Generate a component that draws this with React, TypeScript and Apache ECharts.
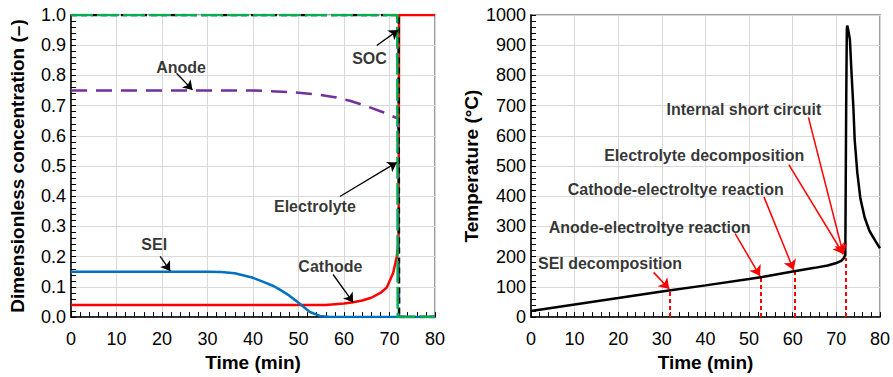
import React, { useEffect, useRef } from "react";
import * as echarts from "echarts";

// ---------- Left chart data (time in min, dimensionless concentration) ----------
const seiData: number[][] = [
  [0, 0.15], [30, 0.15], [33, 0.149], [36, 0.145], [40, 0.13], [42, 0.118],
  [44.5, 0.103], [46, 0.09], [48, 0.071], [50.3, 0.044], [52.5, 0.017],
  [54.7, 0.004], [57, 0], [80, 0],
];
const cathodeData: number[][] = [
  [0, 0.04], [56, 0.04], [60, 0.045], [62, 0.049], [64, 0.055], [66, 0.064],
  [68, 0.08], [69.4, 0.098], [70.8, 0.146], [71.6, 0.2], [72, 0.25],
  [72.1, 1.0], [80, 1.0],
];
const anodeData: number[][] = [
  [0, 0.75], [40, 0.75], [44, 0.748], [48, 0.745], [54, 0.737], [58, 0.728],
  [61.3, 0.716], [65, 0.698], [68.6, 0.678], [71.9, 0.657], [72.1, 0], [80, 0],
];
const electrolyteData: number[][] = [[0, 1], [72, 1], [72.1, 0], [80, 0]];
const socData: number[][] = [[0, 1], [71.7, 1], [71.8, 0], [80, 0]];

// left annotations: label text, label position, arrow start, arrow end
const leftLabels = ["Anode", "SOC", "Electrolyte", "SEI", "Cathode"];
const leftLabelPos: number[][] = [[24.2, 0.826], [65.6, 0.855], [53.6, 0.366], [18.3, 0.24], [57, 0.168]];
const leftArrowFrom: number[][] = [[23.2, 0.807], [67.2, 0.899], [59.1, 0.399], [19.6, 0.201], [57.6, 0.141]];
const leftArrowTo: number[][] = [[26.7, 0.752], [71.9, 0.95], [71.6, 0.512], [21.8, 0.153], [62, 0.049]];

// ---------- Right chart data (time in min, temperature in °C) ----------
const tempData: number[][] = [
  [0, 20], [10, 41.6], [20, 63], [30, 85], [32, 89], [40, 105], [50, 126],
  [53, 133], [60, 151], [65, 163], [68, 171], [70, 179], [71, 185], [71.6, 193],
  [72.05, 205], [72.25, 700], [72.4, 955], [72.5, 965], [72.7, 952], [73.1, 919],
  [73.5, 801], [73.9, 694], [74.2, 587], [74.8, 478], [75.5, 393], [76.5, 329],
  [77.6, 285], [79.1, 248], [80, 228],
];
const eventTimes = [31.8, 52.7, 60.5, 72.1];
const eventTemps = [89, 133, 153, 196];

const rightLabels = [
  "Internal short circuit",
  "Electrolyte decomposition",
  "Cathode-electroltye reaction",
  "Anode-electroltye reaction",
  "SEI decomposition",
];
const rightLabelPos: number[][] = [[48.8, 688], [39.7, 535], [33.2, 421], [27.2, 297], [18.1, 178]];
const rightArrowFrom: number[][] = [[63.6, 661], [59.1, 505], [53.4, 398], [46.8, 276], [28.1, 148]];
const rightArrowTo: number[][] = [[71.6, 208], [71.6, 208], [60.2, 156], [52.5, 136], [31.7, 93]];

const FONT = "Liberation Sans, Arial, sans-serif";

function makeXAxis(gridIndex: number) {
  return {
    type: "value" as const,
    gridIndex,
    min: 0,
    max: 80,
    interval: 10,
    name: "Time (min)",
    nameLocation: "middle" as const,
    nameGap: 35,
    nameTextStyle: { fontFamily: FONT, fontWeight: "bold" as const, fontSize: 19, color: "#000" },
    axisLine: { show: true, onZero: false, lineStyle: { color: "#000", width: 1.5 } },
    axisTick: { show: true, inside: true, length: 5, lineStyle: { color: "#000", width: 1 } },
    minorTick: { show: true, splitNumber: 5, length: 5, lineStyle: { color: "#000", width: 1 } },
    splitLine: { show: true, lineStyle: { color: "#d9d9d9", width: 1 } },
    axisLabel: { fontFamily: FONT, fontSize: 18, color: "#000", margin: 13 },
  };
}

function makeYAxis(gridIndex: number, max: number, interval: number, name: string, nameGap: number, fmt: (v: number) => string) {
  return {
    type: "value" as const,
    gridIndex,
    min: 0,
    max,
    interval,
    name,
    nameLocation: "middle" as const,
    nameGap,
    nameTextStyle: { fontFamily: FONT, fontWeight: "bold" as const, fontSize: 19, color: "#000" },
    axisLine: { show: true, onZero: false, lineStyle: { color: "#000", width: 1.5 } },
    axisTick: { show: true, inside: true, length: 5, lineStyle: { color: "#000", width: 1 } },
    minorTick: { show: true, splitNumber: 5, length: 5, lineStyle: { color: "#000", width: 1 } },
    splitLine: { show: true, lineStyle: { color: "#d9d9d9", width: 1 } },
    axisLabel: { fontFamily: FONT, fontSize: 18, color: "#000", margin: 5, formatter: fmt },
  };
}

function lineSeries(data: number[][], color: string, width: number, type: any, idx: number, z: number) {
  return {
    type: "line" as const,
    xAxisIndex: idx,
    yAxisIndex: idx,
    data,
    showSymbol: false,
    symbol: "none",
    z,
    lineStyle: { color, width, type },
  };
}

export default function App() {
  const ref = useRef<HTMLDivElement>(null);
  useEffect(() => {
    const chart = echarts.init(ref.current!, null, { renderer: "svg" });
    const labelStyle = { fontFamily: FONT, fontWeight: "bold" as const, fontSize: 16, color: "#000" };
    const option: any = {
      animation: false,
      backgroundColor: "#fff",
      grid: [
        { left: 71, top: 15, width: 364, height: 310, show: true, borderColor: "#7f7f7f", borderWidth: 1.5, backgroundColor: "transparent" },
        { left: 531, top: 15, width: 353, height: 310, show: true, borderColor: "#7f7f7f", borderWidth: 1.5, backgroundColor: "transparent" },
      ],
      xAxis: [makeXAxis(0), makeXAxis(1)],
      yAxis: [
        makeYAxis(0, 1, 0.1, "Dimensionless concentration (–)", 44, (v: number) => v.toFixed(1)),
        makeYAxis(1, 1000, 100, "Temperature (°C)", 50, (v: number) => String(Math.round(v))),
      ],
      series: [
        lineSeries(cathodeData, "#ff0000", 2.5, "solid", 0, 3),
        lineSeries(seiData, "#0070c0", 2.5, "solid", 0, 3),
        lineSeries(anodeData, "#7030a0", 2.5, [16, 9], 0, 4),
        lineSeries(electrolyteData, "#000000", 2.5, [6, 4], 0, 5),
        lineSeries(socData, "#00b050", 2.5, [22, 4], 0, 6),
        {
          type: "lines",
          coordinateSystem: "cartesian2d",
          xAxisIndex: 0,
          yAxisIndex: 0,
          symbol: ["none", "arrow"],
          symbolSize: 9,
          z: 8,
          lineStyle: { color: "#000", width: 1.3, opacity: 1 },
          data: leftArrowFrom.map((p, i) => ({ coords: [p, leftArrowTo[i]] })),
        },
        {
          type: "scatter",
          xAxisIndex: 0,
          yAxisIndex: 0,
          symbolSize: 0,
          z: 9,
          label: { show: true, position: "inside", formatter: "{b}", ...labelStyle },
          data: leftLabels.map((n, i) => ({ name: n, value: leftLabelPos[i] })),
        },
        // right chart
        {
          type: "lines",
          coordinateSystem: "cartesian2d",
          xAxisIndex: 1,
          yAxisIndex: 1,
          z: 3,
          lineStyle: { color: "#ff0000", width: 2, type: [4, 3], opacity: 1 },
          data: eventTimes.map((t, i) => ({ coords: [[t, 0], [t, eventTemps[i]]] })),
        },
        lineSeries(tempData, "#000000", 2.5, "solid", 1, 4),
        {
          type: "lines",
          coordinateSystem: "cartesian2d",
          xAxisIndex: 1,
          yAxisIndex: 1,
          symbol: ["none", "arrow"],
          symbolSize: 10,
          z: 8,
          lineStyle: { color: "#ff0000", width: 1.5, opacity: 1 },
          data: rightArrowFrom.map((p, i) => ({ coords: [p, rightArrowTo[i]] })),
        },
        {
          type: "scatter",
          xAxisIndex: 1,
          yAxisIndex: 1,
          symbolSize: 0,
          z: 9,
          label: { show: true, position: "inside", formatter: "{b}", ...labelStyle },
          data: rightLabels.map((n, i) => ({ name: n, value: rightLabelPos[i] })),
        },
      ],
    };
    chart.setOption(option);
    return () => chart.dispose();
  }, []);
  return (
    <div
      ref={ref}
      style={{ position: "fixed", left: 0, top: 0, width: 893, height: 377, background: "#fff" }}
    />
  );
}
